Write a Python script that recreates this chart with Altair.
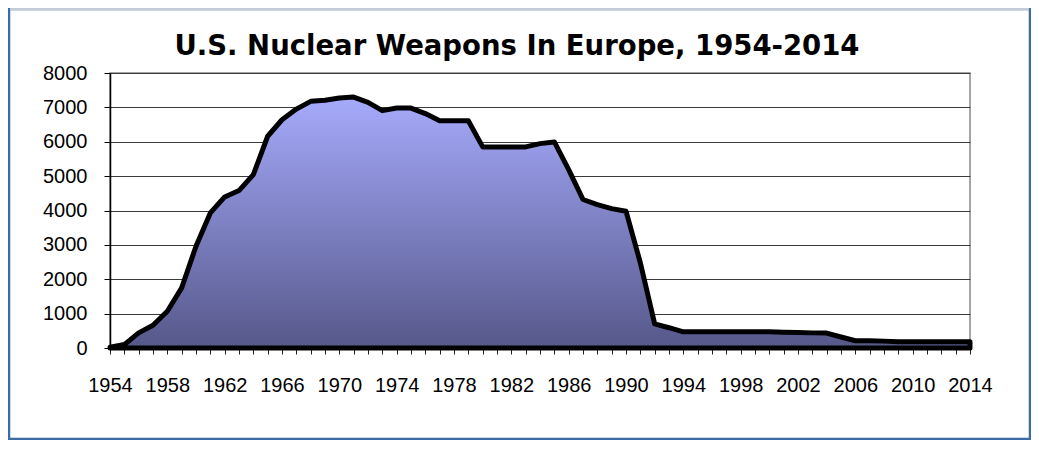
import altair as alt
import pandas as pd

years = list(range(1954, 2015))
weapons = [20, 100, 440, 660, 1070, 1750, 2960, 3930, 4395, 4580,
           5045, 6160, 6640, 6950, 7175, 7205, 7270, 7300, 7145, 6905,
           6980, 6980, 6820, 6610, 6610, 6610, 5850, 5850, 5850, 5850,
           5945, 5995, 5190, 4320, 4170, 4055, 3980, 2480, 700, 590,
           470, 470, 470, 470, 470, 470, 470, 460, 450, 440,
           435, 320, 210, 210, 200, 180, 180, 180, 180, 180,
           180]
y_ticks = list(range(0, 8001, 1000))
title_text = "U.S. Nuclear Weapons In Europe, 1954-2014"

df = pd.DataFrame({"year": years, "weapons": weapons})

fill = alt.Gradient(
    gradient="linear",
    stops=[alt.GradientStop(color="#a6aafb", offset=0),
           alt.GradientStop(color="#56588a", offset=1)],
    x1=0, x2=0, y1=0, y2=1,
)

area = alt.Chart(df).mark_area(
    color=fill, stroke="black", strokeWidth=5, strokeJoin="round"
).encode(
    x=alt.X("year:Q",
            scale=alt.Scale(domain=[1954, 2014], nice=False, zero=False),
            axis=alt.Axis(values=years, format="d", title=None,
                          labelExpr="(datum.value - 1954) % 4 == 0 ? datum.label : ''",
                          labelOverlap=False, labelFlush=False,
                          tickSize=6, tickColor="#222", labelPadding=21,
                          grid=False, domainColor="black", domainWidth=2)),
    y=alt.Y("weapons:Q",
            scale=alt.Scale(domain=[0, 8000], nice=False),
            axis=alt.Axis(values=y_ticks, format="d", title=None,
                          tickSize=6, tickColor="black", labelPadding=17,
                          grid=True, gridColor="#3a3a3a", gridWidth=1,
                          domainColor="black", domainWidth=1.5)),
)

single = pd.DataFrame({"b": [0]})
border = alt.Chart(single).mark_rect(
    fillOpacity=0, stroke="#3b6ca6", strokeWidth=2.5, clip=False
).encode(
    x=alt.value(-101), x2=alt.value(920), y=alt.value(-64), y2=alt.value(366)
)
top_line = alt.Chart(single).mark_rule(
    stroke="#c4ccd6", strokeWidth=2, clip=False
).encode(
    x=alt.value(-100), x2=alt.value(919), y=alt.value(-64)
)
title = alt.Chart(single).mark_text(
    text=title_text, font="DejaVu Sans", fontSize=27.5, fontWeight="bold",
    color="black", align="center", baseline="alphabetic", clip=False
).encode(
    x=alt.value(407), y=alt.value(-18)
)

chart = alt.layer(area, border, top_line, title).properties(
    width=860, height=275,
    autosize=alt.AutoSizeParams(type="none"),
    padding={"left": 102, "top": 65, "right": 61, "bottom": 92},
).configure_axis(
    labelFont="Liberation Sans", labelFontSize=20, labelColor="black",
).configure_view(
    stroke="#888888", strokeWidth=1.5
)

chart.save("out.html", embed_options={"renderer": "svg", "actions": False})
